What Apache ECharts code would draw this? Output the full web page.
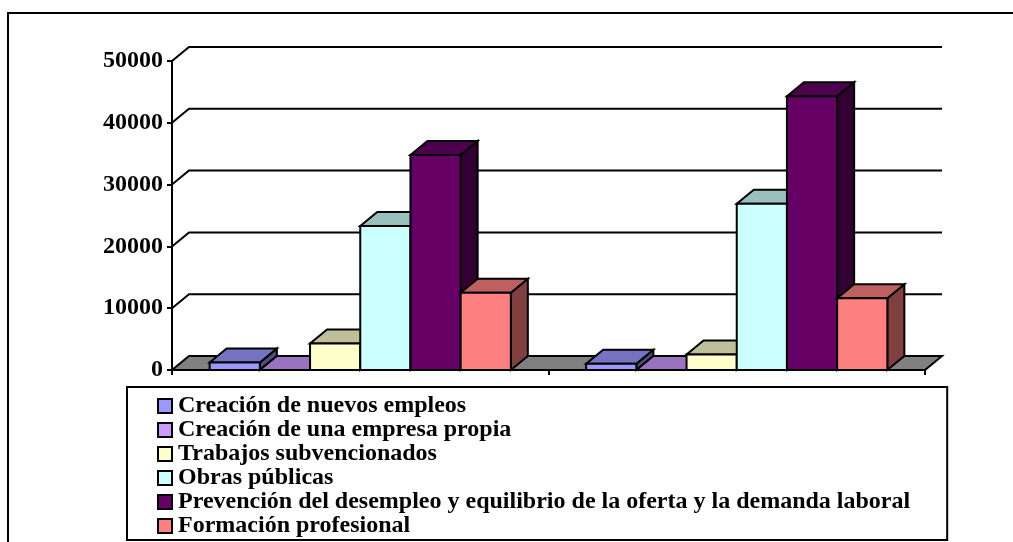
<!DOCTYPE html>
<html>
<head>
<meta charset="utf-8">
<script src="https://cdn.jsdelivr.net/npm/echarts@6/dist/echarts.min.js"></script>
<style>
  html, body { margin: 0; padding: 0; background: #fff; }
  #chart { width: 1013px; height: 542px; }
</style>
</head>
<body>
<div id="chart"></div>
<script>
// data
const categories = ["1", "2"];
const seriesNames = [
  "Creación de nuevos empleos",
  "Creación de una empresa propia",
  "Trabajos subvencionados",
  "Obras públicas",
  "Prevención del desempleo y equilibrio de la oferta y la demanda laboral",
  "Formación profesional"
];
const nuevosEmpleos = [1200, 1000];
const empresaPropia = [0, 0];
const subvencionados = [4300, 2500];
const obrasPublicas = [23300, 26900];
const prevencion = [34800, 44300];
const formacion = [12500, 11600];
const yTicks = [10000, 20000, 30000, 40000, 50000];

const seriesValues = [nuevosEmpleos, empresaPropia, subvencionados, obrasPublicas, prevencion, formacion];
const barColors = ["#9999FF", "#CC99FF", "#FFFFCC", "#CCFFFF", "#660066", "#FF8080"];

// 3d depth in pixels
const DX = 17;
const DY = 14;
const SERIF = "'Liberation Serif', 'Times New Roman', serif";

function shade(hex, f) {
  const n = parseInt(hex.slice(1), 16);
  const r = Math.round(((n >> 16) & 255) * f);
  const g = Math.round(((n >> 8) & 255) * f);
  const b = Math.round((n & 255) * f);
  return "rgb(" + r + "," + g + "," + b + ")";
}

const stroke = { stroke: "#000", lineWidth: 2, lineJoin: "miter" };

function barRender(idx) {
  return function (params, api) {
    const cat = api.value(0);
    const val = api.value(1);
    const base = api.coord([cat, 0]);
    const top = api.coord([cat, val]);
    const bw = api.size([1, 0])[0];
    const w = bw / 7.5;
    const x0 = base[0] - bw / 2 + w * (0.75 + idx);
    const x1 = x0 + w;
    const yb = base[1];
    const yt = top[1];
    const col = barColors[idx];
    return {
      type: "group",
      children: [
        {
          type: "polygon",
          shape: { points: [[x1, yb], [x1, yt], [x1 + DX, yt - DY], [x1 + DX, yb - DY]] },
          style: Object.assign({ fill: shade(col, 0.5) }, stroke)
        },
        {
          type: "polygon",
          shape: { points: [[x0, yt], [x1, yt], [x1 + DX, yt - DY], [x0 + DX, yt - DY]] },
          style: Object.assign({ fill: shade(col, 0.75) }, stroke)
        },
        {
          type: "rect",
          shape: { x: x0, y: yt, width: w, height: yb - yt },
          style: Object.assign({ fill: col }, stroke)
        }
      ]
    };
  };
}

const chart = echarts.init(document.getElementById("chart"), null, { renderer: "canvas" });

const series = seriesNames.map((name, i) => ({
  name: name,
  type: "custom",
  z: 3,
  renderItem: barRender(i),
  itemStyle: { color: barColors[i] },
  data: seriesValues[i].map((v, c) => [c, v])
}));

// back wall gridlines + left wall diagonals
series.push({
  type: "custom",
  z: 1,
  silent: true,
  renderItem: function (params, api) {
    const cs = params.coordSys;
    const y = api.coord([0, api.value(0)])[1];
    return {
      type: "polyline",
      shape: { points: [[cs.x, y], [cs.x + DX, y - DY], [cs.x + cs.width + DX, y - DY]] },
      style: { stroke: "#000", lineWidth: 2, fill: null }
    };
  },
  data: yTicks.map(v => [v])
});

// floor
series.push({
  type: "custom",
  z: 2,
  silent: true,
  renderItem: function (params, api) {
    const cs = params.coordSys;
    const y = api.coord([0, api.value(0)])[1];
    const xa = cs.x, xb = cs.x + cs.width;
    return {
      type: "polygon",
      shape: { points: [[xa, y], [xb, y], [xb + DX, y - DY], [xa + DX, y - DY]] },
      style: Object.assign({ fill: "#808080" }, stroke)
    };
  },
  data: [[0]]
});

chart.setOption({
  animation: false,
  backgroundColor: "#fff",
  grid: { left: 172, right: 88, top: 61, bottom: 172 },
  graphic: [
    {
      type: "rect",
      shape: { x: 8, y: 13, width: 1200, height: 700 },
      style: { fill: null, stroke: "#000", lineWidth: 2 },
      z: 0
    }
  ],
  legend: {
    orient: "vertical",
    left: 127,
    top: 387,
    height: 220,
    data: seriesNames,
    icon: "rect",
    itemWidth: 14,
    itemHeight: 14,
    itemGap: 0,
    padding: [7, 37, 2, 30],
    borderColor: "#000",
    borderWidth: 2,
    selectedMode: false,
    itemStyle: { borderColor: "#000", borderWidth: 2 },
    textStyle: {
      fontFamily: SERIF,
      fontWeight: "bold",
      fontSize: 24,
      lineHeight: 22,
      color: "#000",
      padding: [0, 0, 0, 1]
    }
  },
  xAxis: {
    type: "category",
    data: categories,
    boundaryGap: true,
    axisLine: { show: true, lineStyle: { color: "#000", width: 2 } },
    axisTick: { show: true, length: 5, lineStyle: { color: "#000", width: 2 } },
    axisLabel: { show: false },
    splitLine: { show: false }
  },
  yAxis: {
    type: "value",
    min: 0,
    max: 50000,
    interval: 10000,
    axisLine: { show: true, lineStyle: { color: "#000", width: 2 } },
    axisTick: { show: true, length: 5, lineStyle: { color: "#000", width: 2 } },
    axisLabel: {
      margin: 9,
      color: "#000",
      fontFamily: SERIF,
      fontWeight: "bold",
      fontSize: 24,
      formatter: function (v) { return String(v); }
    },
    splitLine: { show: false }
  },
  series: series
});
</script>
</body>
</html>
